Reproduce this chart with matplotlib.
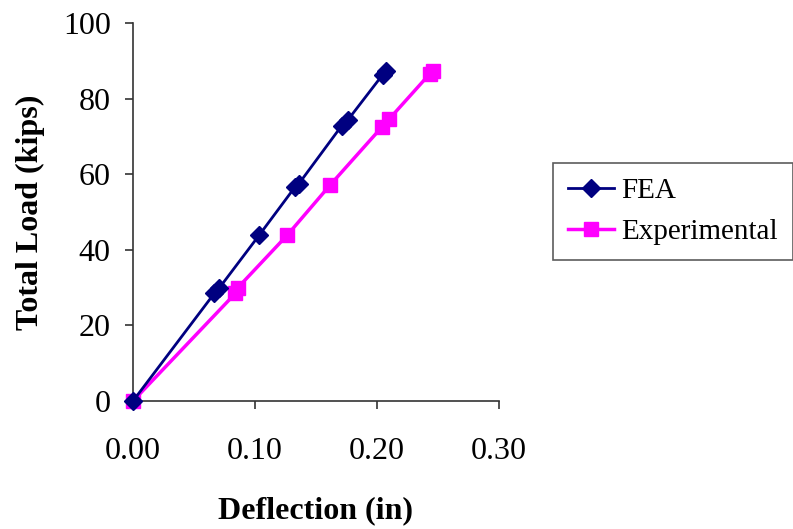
import matplotlib
matplotlib.use("Agg")
import matplotlib.pyplot as plt

fea_x = [0.0, 0.0667, 0.0705, 0.1035, 0.133, 0.136, 0.171, 0.176, 0.2046, 0.207]
fea_y = [0.0, 28.5, 29.8, 43.9, 56.7, 57.5, 72.8, 74.3, 86.3, 87.4]
exp_x = [0.0, 0.084, 0.086, 0.1265, 0.1615, 0.2038, 0.210, 0.2434, 0.246]
exp_y = [0.0, 28.5, 30.0, 43.9, 57.1, 72.4, 74.6, 86.6, 87.4]

xticks = [0.0, 0.1, 0.2, 0.3]
xticklabels = ["0.00", "0.10", "0.20", "0.30"]
yticks = [0, 20, 40, 60, 80, 100]

plt.rcParams['font.family'] = ['Liberation Serif', 'DejaVu Serif']
FS = 23

fig = plt.figure(figsize=(7.93, 5.29), dpi=100)
ax = fig.add_axes([133/793, 1-401/529, (499-133)/793, (401-23)/529])

ax.plot(fea_x, fea_y, color='#000080', lw=2, marker='D', markersize=9,
        markerfacecolor='#000080', markeredgecolor='#000080', label='FEA', clip_on=False, zorder=3)
ax.plot(exp_x, exp_y, color='#FF00FF', lw=2.5, marker='s', markersize=10,
        markerfacecolor='#FF00FF', markeredgecolor='#FF00FF', label='Experimental', clip_on=False, zorder=2)

ax.set_xlim(0, 0.3)
ax.set_ylim(0, 100)
ax.set_xticks(xticks)
ax.set_xticklabels(xticklabels)
ax.set_yticks(yticks)
ax.spines['top'].set_visible(False)
ax.spines['right'].set_visible(False)
for s in ['left', 'bottom']:
    ax.spines[s].set_color('#333333')
    ax.spines[s].set_linewidth(1.2)
ax.tick_params(axis='x', direction='out', length=6, width=1.2, pad=20, labelsize=FS, color='#333333')
ax.tick_params(axis='y', direction='out', length=6, width=1.2, pad=10, labelsize=FS, color='#333333')

ax.set_xlabel('Deflection (in)', fontsize=FS, fontweight='bold', labelpad=22)
ax.set_ylabel('Total Load (kips)', fontsize=FS, fontweight='bold', labelpad=13)

leg = ax.legend(loc='upper left', bbox_to_anchor=(553/793, 1-163/529), bbox_transform=fig.transFigure,
                fontsize=21, frameon=True, fancybox=False, edgecolor='#333333', borderpad=0.5,
                handlelength=1.6, handletextpad=0.25, labelspacing=0.5, borderaxespad=0)
leg.get_frame().set_linewidth(1.2)

fig.savefig('out.png', dpi=100)
